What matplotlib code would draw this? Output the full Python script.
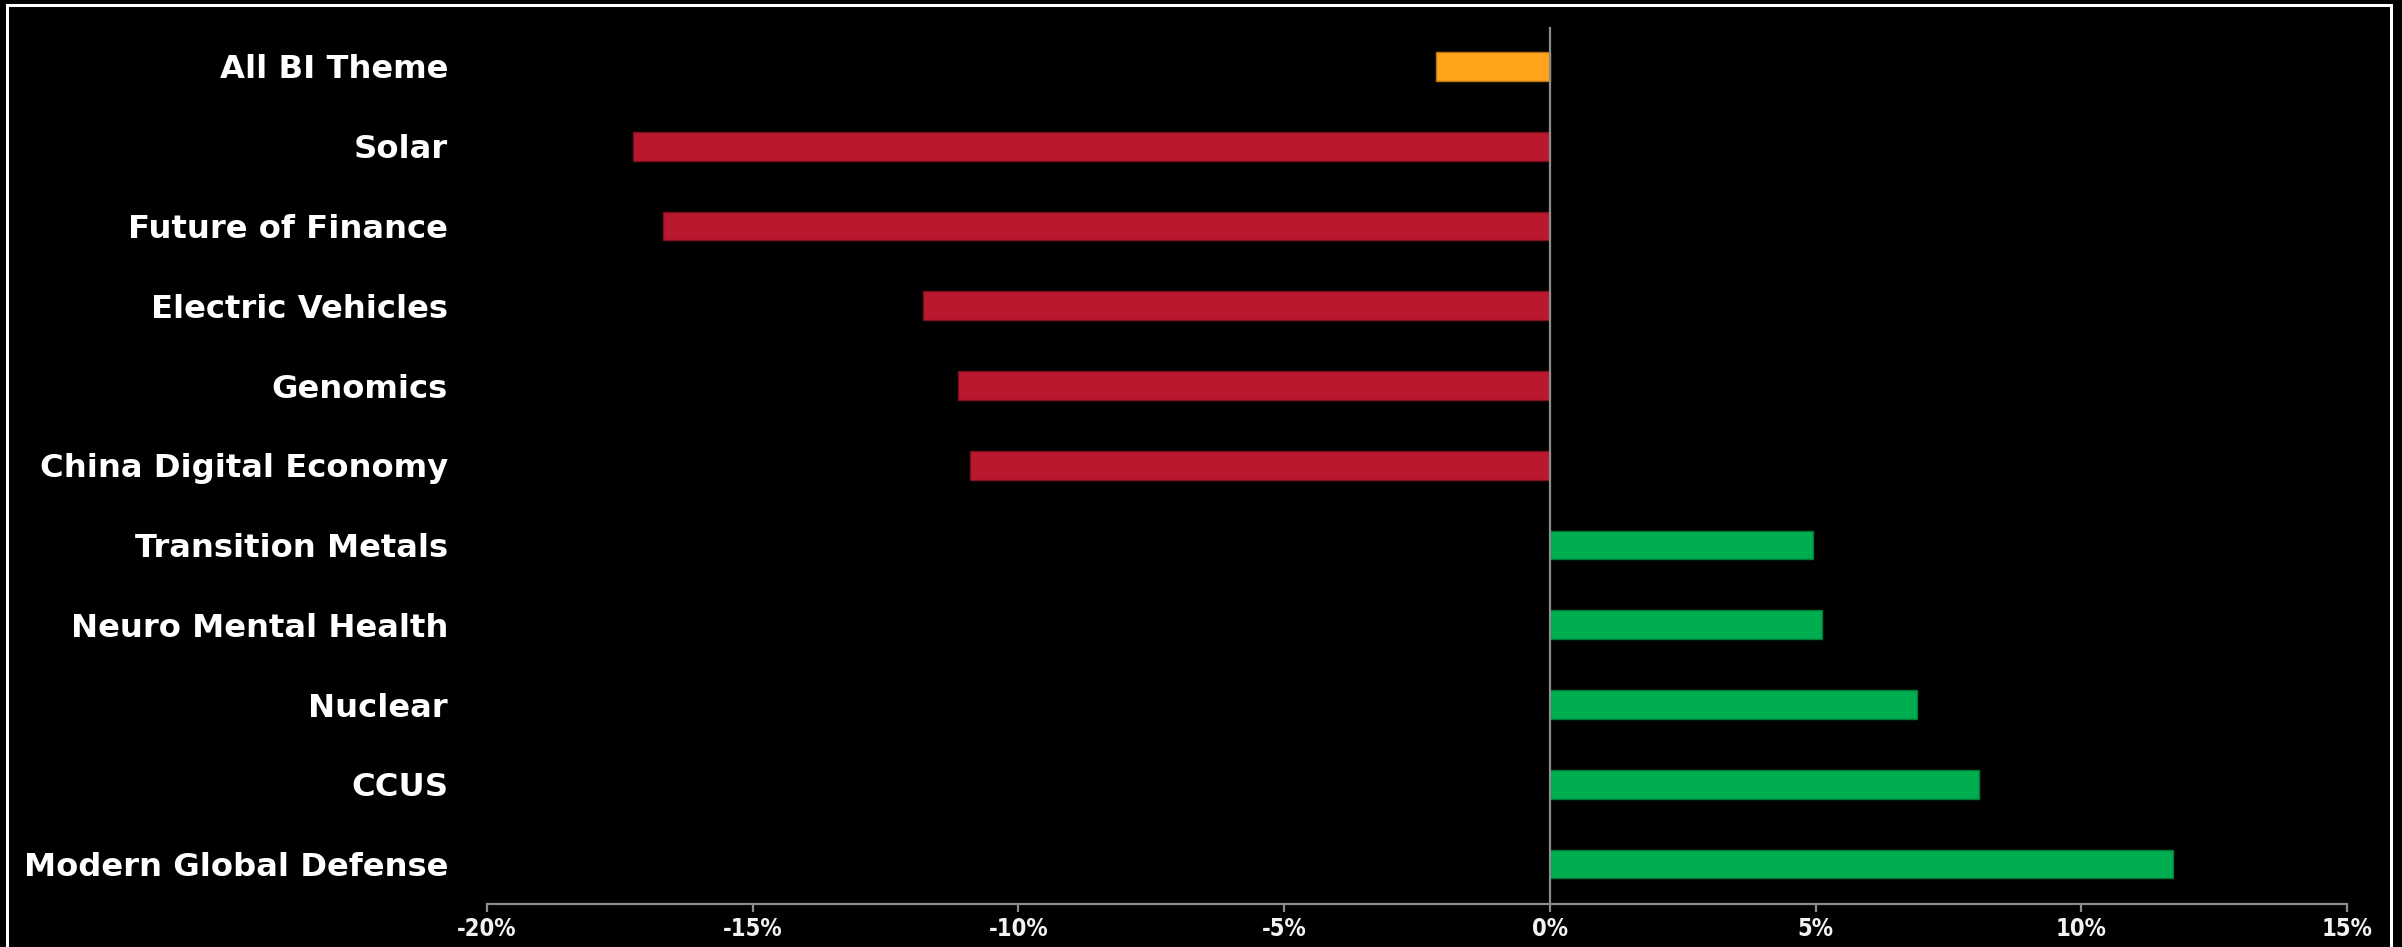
import matplotlib
matplotlib.use("Agg")
import matplotlib.pyplot as plt
from matplotlib.patches import Rectangle
from matplotlib.ticker import FuncFormatter

categories = ["All BI Theme", "Solar", "Future of Finance", "Electric Vehicles",
              "Genomics", "China Digital Economy", "Transition Metals",
              "Neuro Mental Health", "Nuclear", "CCUS", "Modern Global Defense"]
values = [-2.15, -17.26, -16.69, -11.79, -11.14, -10.92, 4.96, 5.13, 6.91, 8.08, 11.73]
xticks = [-20, -15, -10, -5, 0, 5, 10, 15]

ORANGE = "#FFA41B"
RED = "#BA182F"
GREEN = "#00AE50"

colors = []
edges = []
for i, v in enumerate(values):
    if i == 0:
        colors.append(ORANGE); edges.append("#B8740F")
    elif v < 0:
        colors.append(RED); edges.append("#7A0F1E")
    else:
        colors.append(GREEN); edges.append("#007A37")

W, H = 2402, 947
fig = plt.figure(figsize=(W / 100, H / 100), dpi=100, facecolor="black")
ax = fig.add_axes([487 / W, 1 - 904 / H, (2347 - 487) / W, (904 - 26.6) / H])
ax.set_facecolor("black")

ypos = list(range(len(categories)))
ax.barh(ypos, values, height=0.36, color=colors, edgecolor=edges, linewidth=1.0, zorder=2)

ax.set_ylim(10.5, -0.5)
ax.set_xlim(-20, 15)
ax.axvline(0, color="#8C8C8C", linewidth=1.6, zorder=3)

ax.set_yticks(ypos)
ax.set_yticklabels(categories, fontsize=23.2, fontweight="bold", color="white",
                   family="DejaVu Sans")
ax.tick_params(axis="y", length=0, pad=28)

ax.set_xticks(xticks)
ax.xaxis.set_major_formatter(FuncFormatter(lambda x, p: f"{int(x)}%"))
ax.tick_params(axis="x", colors="#8C8C8C", length=6, width=1.6, direction="out",
               labelcolor="#F2F2F2", labelsize=17, pad=3)
for lbl in ax.get_xticklabels():
    lbl.set_family("DejaVu Sans")
    lbl.set_fontstretch("condensed")
    lbl.set_fontweight("bold")

for s in ["top", "right", "left"]:
    ax.spines[s].set_visible(False)
ax.spines["bottom"].set_color("#8C8C8C")
ax.spines["bottom"].set_linewidth(1.6)

# outer white frame
fig.patches.append(Rectangle((7 / W, -0.05), (2391 - 7) / W, 1.05 - 5.5 / H,
                             transform=fig.transFigure, fill=False,
                             edgecolor="white", linewidth=2.2))

fig.savefig("out.png", dpi=100, facecolor="black")
